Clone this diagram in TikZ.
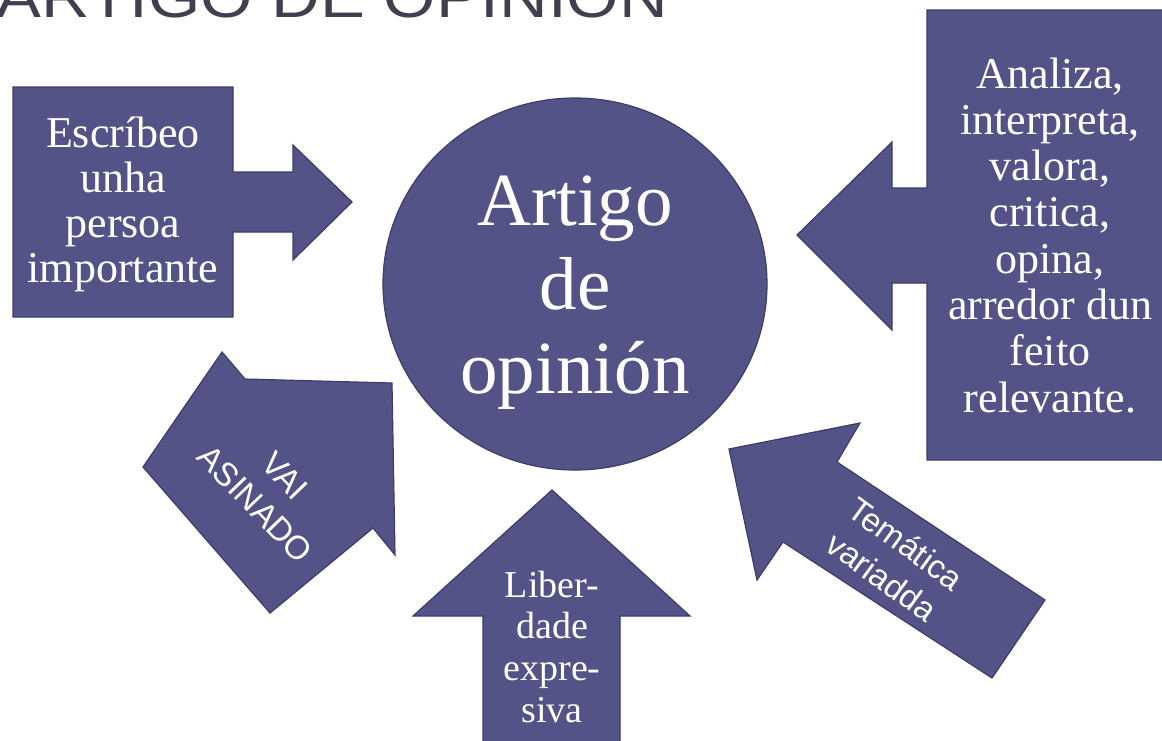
\documentclass[tikz,border=0pt]{standalone}
\usepackage{fontspec}
\setmainfont{Liberation Serif}
\newfontfamily\arialf{Liberation Sans}
\usetikzlibrary{shapes.geometric}
\definecolor{shapefill}{HTML}{535388}
\definecolor{shapeline}{HTML}{3C3C68}
\definecolor{titlegray}{HTML}{3F3F50}
\begin{document}
\begin{tikzpicture}[x=1pt,y=-1pt,
  panel/.style={fill=shapefill, draw=shapeline, line width=1.2pt, line join=miter},
  serifline/.style={text=white, inner sep=0pt, anchor=base, font=\fontsize{44}{46}\selectfont},
  smallserif/.style={text=white, inner sep=0pt, anchor=base, font=\fontsize{38}{42}\selectfont},
  bigserif/.style={text=white, inner sep=0pt, anchor=base, font=\fontsize{75}{84}\selectfont},
  sanstext/.style={text=white, inner sep=0pt, align=center, font=\arialf\fontsize{33}{41}\selectfont}]
\useasboundingbox (0,0) rectangle (1162,740);
% title
\node[anchor=base west, inner sep=0pt, text=titlegray, font=\arialf\fontsize{58}{60}\selectfont] (title) at (-4,17) {\scalebox{1.16}[1]{ARTIGO DE OPINIÓN}};
% left box with arrow
\draw[panel] (13,87) -- (233,87) -- (233,172) -- (293,172) -- (293,145) -- (352,202) -- (293,260) -- (293,232) -- (233,232) -- (233,317) -- (13,317) -- cycle;
% right box with arrow
\draw[panel] (927,10) -- (1170,10) -- (1170,460) -- (927,460) -- (927,283) -- (892,283) -- (892,330) -- (797,235) -- (892,142) -- (892,188) -- (927,188) -- cycle;
% bottom arrow
\draw[panel] (552,490) -- (690,616) -- (620,616) -- (620,750) -- (483,750) -- (483,616) -- (413,616) -- cycle;
% lower left arrow
\draw[panel] (143,467) -- (222,352) -- (245,379) -- (392,383) -- (395,555) -- (373,528) -- (270,613) -- cycle;
% lower right arrow
\draw[panel] (729,449) -- (860,423) -- (837,462) -- (1045,600) -- (992,678) -- (783,542) -- (757,580) -- cycle;
% central ellipse
\node[panel, ellipse, minimum width=384pt, minimum height=372pt, inner sep=0pt] (art) at (575,284) {};
% texts
\foreach \t [count=\i] in {Artigo, de, opinión}
  \node[bigserif] (art\i) at (575,{225+(\i-1)*84}) {\t};
\foreach \t [count=\i] in {Escríbeo, unha, persoa, importante}
  \node[serifline] (esc\i) at (123,{147+(\i-1)*45.3}) {\t};
\foreach \t [count=\i] in {{Analiza,}, {interpreta,}, {valora,}, {critica,}, {opina,}, {arredor dun}, {feito}, {relevante.}}
  \node[serifline] (ana\i) at (1050,{88+(\i-1)*46.3}) {\t};
\foreach \t [count=\i] in {Liber-, dade, expre-, siva}
  \node[smallserif] (lib\i) at (552,{597+(\i-1)*41.7}) {\t};
\node[sanstext, rotate=-46] (vai) at (270,490) {VAI\\ASINADO};
\node[sanstext, rotate=-36] (tem) at (894,560) {Temática\\variadda};
\end{tikzpicture}
\end{document}
